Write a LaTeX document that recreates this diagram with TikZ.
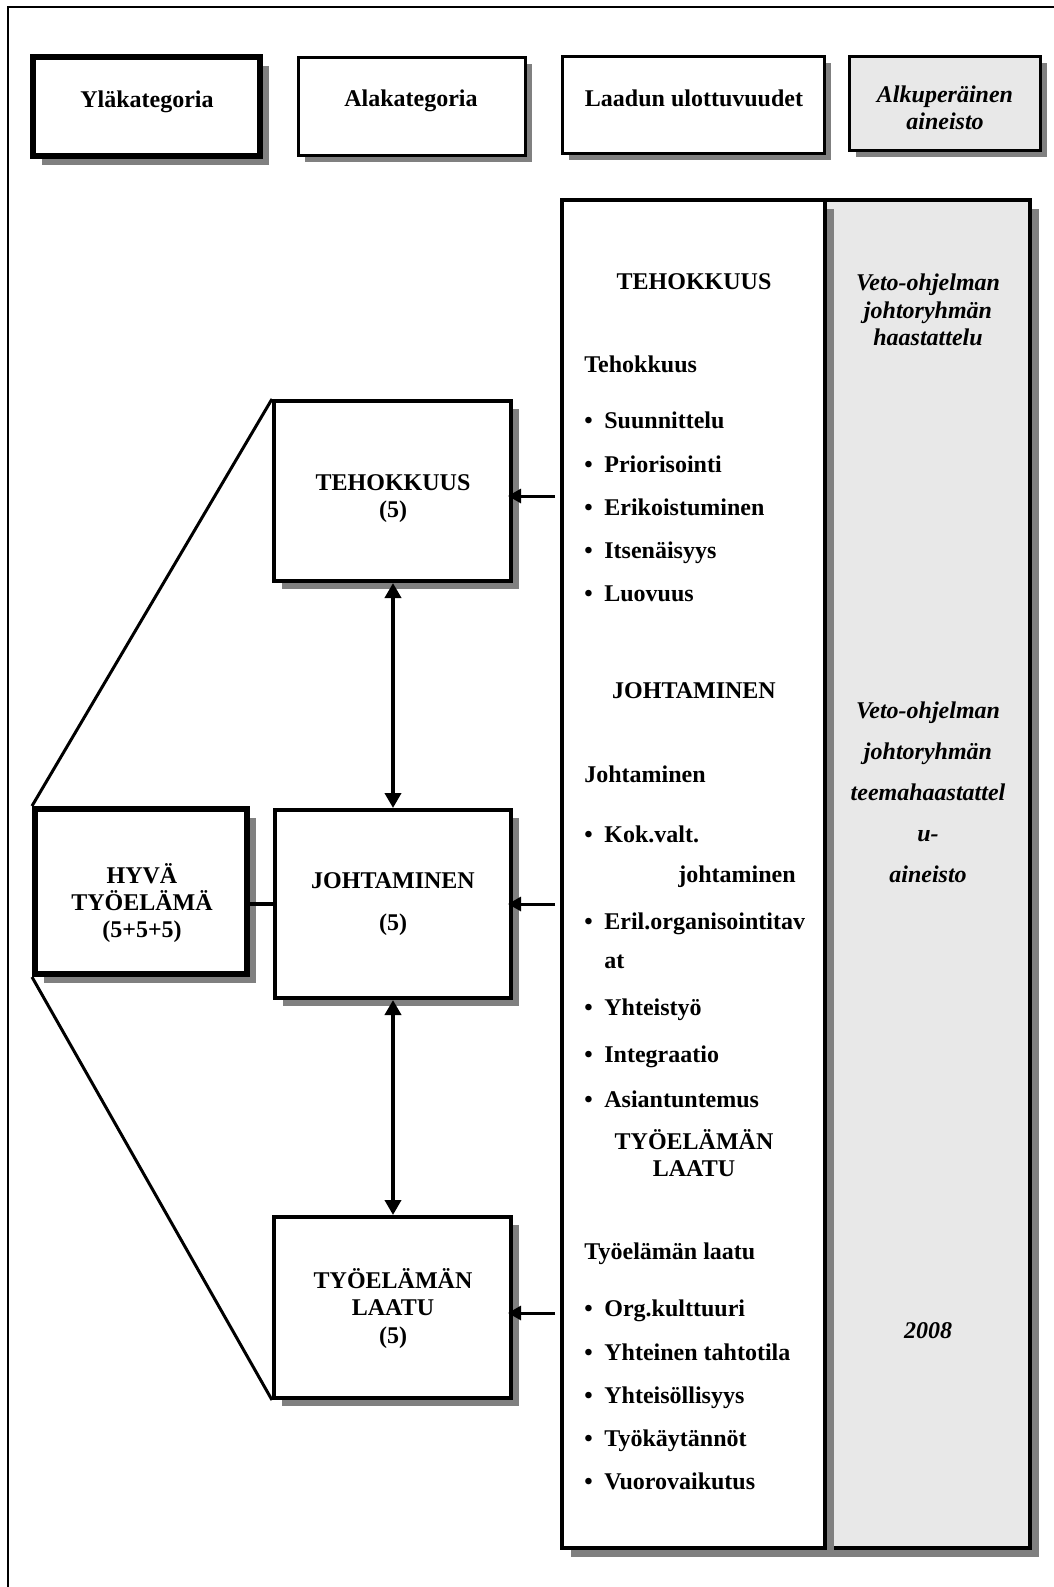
\documentclass[tikz,border=0pt]{standalone}
\usepackage{fontspec}
\setmainfont{Liberation Serif}
\usetikzlibrary{arrows.meta,fit,shadows}
\definecolor{shade}{HTML}{808080}
\definecolor{panel}{HTML}{E8E8E8}

\begin{document}
\begin{tikzpicture}[x=0.5pt,y=-0.5pt,
  every node/.style={font=\fontsize{12pt}{13.5pt}\selectfont\bfseries},
  txt/.style={inner sep=0pt, anchor=base},
  ltxt/.style={inner sep=0pt, anchor=base west},
  itxt/.style={inner sep=0pt, anchor=base, font=\fontsize{12pt}{13.5pt}\selectfont\bfseries\itshape},
  shadowed/.style={drop shadow={shadow xshift=#1, shadow yshift=-#1, fill=shade, opacity=1}},
  headbox/.style={draw, inner sep=0pt, line width=1.5pt, fill=white, shadowed=3.25pt},
  headboxthick/.style={draw, inner sep=0pt, line width=3pt, fill=white, shadowed=4.5pt},
  catbox/.style={draw, inner sep=0pt, line width=2pt, fill=white, shadowed=4pt},
  topbox/.style={draw, inner sep=0pt, line width=3pt, fill=white, shadowed=4.5pt},
  column/.style={draw, inner sep=0pt, line width=2pt, shadowed=4.25pt},
  arr/.style={line width=1.5pt, -{Triangle[length=6.5pt,width=7pt]}},
  dblarr/.style={line width=2pt, {Triangle[length=7.5pt,width=8pt]}-{Triangle[length=7.5pt,width=8pt]}},
  link/.style={line width=1.5pt},
  bul/.style={ltxt},
]
\useasboundingbox (0,0) rectangle (1054,1587);

% outer frame (top and left edges)
\draw[line width=1.2pt] (8,1587) -- (8,7) -- (1054,7);

% header row
\node[headboxthick, fit={(33,57) (260,156)}] (hyla) {};
\node[headbox, fit={(298.5,57) (525.5,155)}] (hala) {};
\node[headbox, fit={(562.5,56.5) (824.5,153.5)}] (hlaa) {};
\node[headbox, fill=panel, fit={(849.5,56.5) (1040.5,150.5)}] (halk) {};
\node[txt] (t-yla) at (147,107) {Yläkategoria};
\node[txt] (t-ala) at (411,106) {Alakategoria};
\node[txt] (t-laa) at (694,106) {Laadun ulottuvuudet};
\node[itxt] (t-alk1) at (945,102) {Alkuperäinen};
\node[itxt] (t-alk2) at (945,129) {aineisto};

% right-hand columns
\node[column, fill=panel, fit={(825,200) (1030,1548)}] (src) {};
\node[column, fill=white, fit={(562,200) (825,1548)}] (col) {};

% quality dimensions
\node[txt] (h-teh) at (694,289) {TEHOKKUUS};
\node[ltxt] (s-teh) at (584,372) {Tehokkuus};
\node[bul] (b1) at (584,428) {\makebox[10pt][l]{\textbullet}Suunnittelu};
\node[bul] (b2) at (584,472) {\makebox[10pt][l]{\textbullet}Priorisointi};
\node[bul] (b3) at (584,515) {\makebox[10pt][l]{\textbullet}Erikoistuminen};
\node[bul] (b4) at (584,558) {\makebox[10pt][l]{\textbullet}Itsenäisyys};
\node[bul] (b5) at (584,601) {\makebox[10pt][l]{\textbullet}Luovuus};

\node[txt] (h-joh) at (694,698) {JOHTAMINEN};
\node[ltxt] (s-joh) at (584,782) {Johtaminen};
\node[bul] (b6) at (584,842) {\makebox[10pt][l]{\textbullet}Kok.valt.};
\node[ltxt] (b6b) at (678,882) {johtaminen};
\node[bul] (b7) at (584,929) {\makebox[10pt][l]{\textbullet}Eril.organisointitav};
\node[ltxt] (b7b) at (604,968) {at};
\node[bul] (b8) at (584,1015) {\makebox[10pt][l]{\textbullet}Yhteistyö};
\node[bul] (b9) at (584,1062) {\makebox[10pt][l]{\textbullet}Integraatio};
\node[bul] (b10) at (584,1107) {\makebox[10pt][l]{\textbullet}Asiantuntemus};

\node[txt] (h-tyo1) at (694,1149) {TYÖELÄMÄN};
\node[txt] (h-tyo2) at (694,1176) {LAATU};
\node[ltxt] (s-tyo) at (584,1259) {Työelämän laatu};
\node[bul] (b11) at (584,1316) {\makebox[10pt][l]{\textbullet}Org.kulttuuri};
\node[bul] (b12) at (584,1360) {\makebox[10pt][l]{\textbullet}Yhteinen tahtotila};
\node[bul] (b13) at (584,1403) {\makebox[10pt][l]{\textbullet}Yhteisöllisyys};
\node[bul] (b14) at (584,1446) {\makebox[10pt][l]{\textbullet}Työkäytännöt};
\node[bul] (b15) at (584,1489) {\makebox[10pt][l]{\textbullet}Vuorovaikutus};

% source material
\node[itxt] (m1) at (928,290) {Veto-ohjelman};
\node[itxt] (m2) at (928,318) {johtoryhmän};
\node[itxt] (m3) at (928,345) {haastattelu};
\node[itxt] (m4) at (928,718) {Veto-ohjelman};
\node[itxt] (m5) at (928,759) {johtoryhmän};
\node[itxt] (m6) at (928,800) {teemahaastattel};
\node[itxt] (m7) at (928,841) {u-};
\node[itxt] (m8) at (928,882) {aineisto};
\node[itxt] (m9) at (928,1338) {2008};

% category boxes
\node[catbox, fit={(274,401) (511,581)}] (teh) {};
\node[catbox, fit={(275,810) (511,998)}] (joh) {};
\node[catbox, fit={(274,1217) (511,1398)}] (tyo) {};
\node[topbox, fit={(35,809) (247,974)}] (hyva) {};

\node[txt] (t-teh1) at (393,490) {TEHOKKUUS};
\node[txt] (t-teh2) at (393,517) {(5)};
\node[txt] (t-joh1) at (393,888) {JOHTAMINEN};
\node[txt] (t-joh2) at (393,930) {(5)};
\node[txt] (t-tyo1) at (393,1288) {TYÖELÄMÄN};
\node[txt] (t-tyo2) at (393,1315) {LAATU};
\node[txt] (t-tyo3) at (393,1343) {(5)};
\node[txt] (t-hyv1) at (142,883) {HYVÄ};
\node[txt] (t-hyv2) at (142,910) {TYÖELÄMÄ};
\node[txt] (t-hyv3) at (142,937) {(5+5+5)};

% connectors
\draw[link] (hyva.north west) -- (teh.north west);
\draw[link] (hyva.south west) -- (tyo.south west);
\draw[line width=2.2pt] (hyva.east |- joh.west) -- (joh.west);
\draw[dblarr] (teh.south -| 393,0) -- (joh.north -| 393,0);
\draw[dblarr] (joh.south -| 393,0) -- (tyo.north -| 393,0);

\coordinate (y-teh) at (0,496);
\coordinate (y-joh) at (0,904);
\coordinate (y-tyo) at (0,1313);
\draw[arr, shorten <=2.5pt, shorten >=-2.5pt] (col.west |- y-teh) -- (teh.east |- y-teh);
\draw[arr, shorten <=2.5pt, shorten >=-2.5pt] (col.west |- y-joh) -- (joh.east |- y-joh);
\draw[arr, shorten <=2.5pt, shorten >=-2.5pt] (col.west |- y-tyo) -- (tyo.east |- y-tyo);
\end{tikzpicture}
\end{document}
